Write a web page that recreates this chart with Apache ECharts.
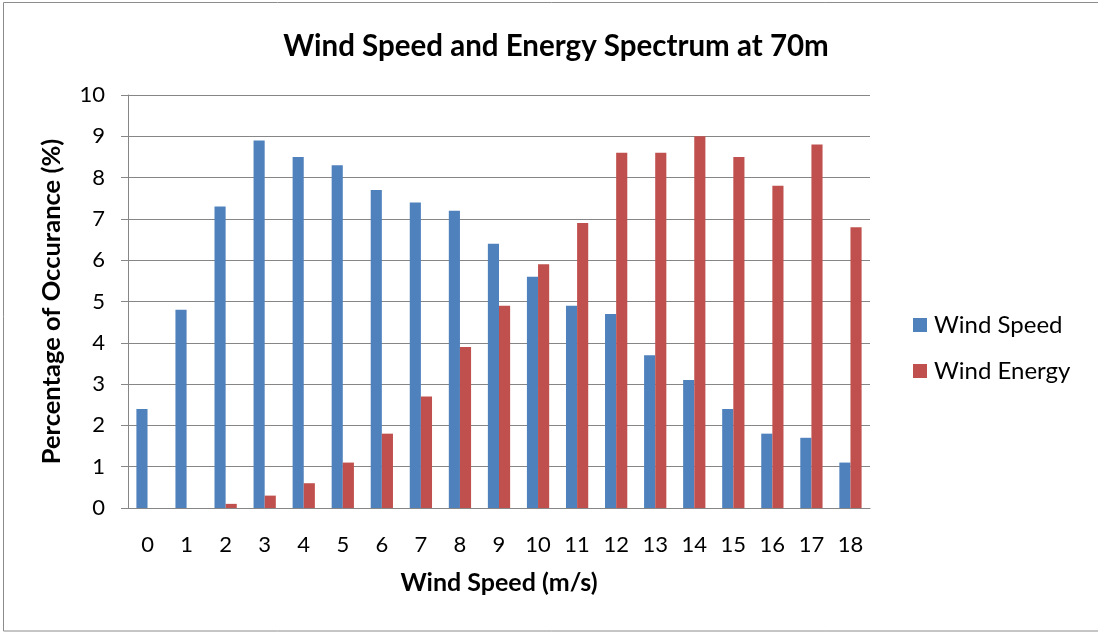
<!DOCTYPE html>
<html>
<head>
<meta charset="utf-8">
<script src="https://cdn.jsdelivr.net/npm/echarts@6/dist/echarts.min.js"></script>
<style>
  html, body { margin: 0; padding: 0; background: #fff; }
  #chart { width: 1098px; height: 632px; }
</style>
</head>
<body>
<div id="chart"></div>
<script>
// Wind speed bins (m/s)
const categories = ['0','1','2','3','4','5','6','7','8','9','10','11','12','13','14','15','16','17','18'];
// Percentage of occurrence per bin
const windSpeed  = [2.4, 4.8, 7.3, 8.9, 8.5, 8.3, 7.7, 7.4, 7.2, 6.4, 5.6, 4.9, 4.7, 3.7, 3.1, 2.4, 1.8, 1.7, 1.1];
// Share of energy per bin
const windEnergy = [0, 0, 0.1, 0.3, 0.6, 1.1, 1.8, 2.7, 3.9, 4.9, 5.9, 6.9, 8.6, 8.6, 9.0, 8.5, 7.8, 8.8, 6.8];

const FONT = 'Lato, "Open Sans", "Liberation Sans", sans-serif';
const chart = echarts.init(document.getElementById('chart'), null, { renderer: 'canvas' });

chart.setOption({
  backgroundColor: '#ffffff',
  animation: false,
  graphic: [{
    type: 'rect',
    shape: { x: 3.5, y: 2.5, width: 1100, height: 628.5 },
    style: { fill: 'none', stroke: '#8c8c8c', lineWidth: 1 },
    silent: true
  }],
  title: {
    text: 'Wind Speed and Energy Spectrum at 70m',
    left: 551, textAlign: 'center', top: 26,
    textStyle: { fontFamily: FONT, fontSize: 29.5, fontWeight: 'bold', color: '#000' }
  },
  legend: {
    orient: 'vertical',
    left: 913, top: 313, padding: 0,
    itemWidth: 14, itemHeight: 14, itemGap: 22,
    icon: 'rect',
    textStyle: { fontFamily: FONT, fontSize: 24, color: '#000', padding: [0, 0, 0, 2] },
    data: ['Wind Speed', 'Wind Energy']
  },
  grid: { left: 128, right: 228, top: 95, bottom: 124, containLabel: false },
  xAxis: {
    type: 'category',
    data: categories,
    name: 'Wind Speed (m/s)',
    nameLocation: 'middle',
    nameGap: 62,
    nameTextStyle: { fontFamily: FONT, fontSize: 25, fontWeight: 'bold', color: '#000' },
    axisLine: { lineStyle: { color: '#868686', width: 1 } },
    axisTick: { show: false },
    axisLabel: { fontFamily: FONT, fontSize: 22, color: '#000', margin: 26 }
  },
  yAxis: {
    type: 'value',
    min: 0, max: 10, interval: 1,
    name: 'Percentage of Occurance (%)',
    nameLocation: 'middle',
    nameGap: 63,
    nameTextStyle: { fontFamily: FONT, fontSize: 25.5, fontWeight: 'bold', color: '#000' },
    axisLine: { show: true, lineStyle: { color: '#868686', width: 1 } },
    axisTick: { show: true, length: 7, lineStyle: { color: '#868686' } },
    axisLabel: { fontFamily: FONT, fontSize: 22, color: '#000', margin: 23 },
    splitLine: { lineStyle: { color: '#868686', width: 1 } }
  },
  series: [
    {
      name: 'Wind Speed', type: 'bar', data: windSpeed,
      barGap: '0%', barCategoryGap: '43%',
      itemStyle: { color: '#4f81bd' }
    },
    {
      name: 'Wind Energy', type: 'bar', data: windEnergy,
      barGap: '0%', barCategoryGap: '43%',
      itemStyle: { color: '#c0504d' }
    }
  ]
});
</script>
</body>
</html>
